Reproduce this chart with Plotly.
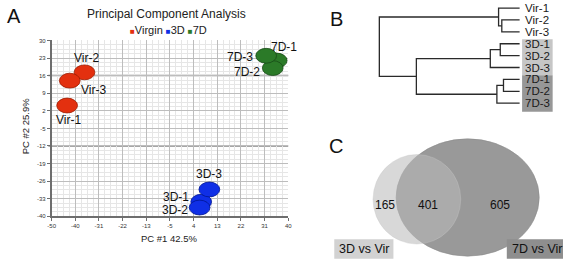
import numpy as np
import plotly.graph_objects as go

W, H = 567, 265
FONT = "Liberation Sans, Arial, sans-serif"

# ---------------- Data ----------------
GROUPS = ["Virgin", "3D", "7D"]
GROUP_COLORS = ["#e3300f", "#0f2fe6", "#2b7a28"]
GROUP_EDGES = ["#9a1a00", "#001590", "#184a16"]
SAMPLES = ["Vir-1", "Vir-2", "Vir-3", "3D-1", "3D-2", "3D-3", "7D-1", "7D-2", "7D-3"]
SAMPLE_GROUP = [0, 0, 0, 1, 1, 1, 2, 2, 2]
PC1 = [-44.1, -37.5, -43.1, 6.9, 6.3, 10.0, 35.6, 34.1, 31.6]
PC2 = [4.1, 17.3, 14.0, -34.2, -36.5, -29.3, 22.0, 19.0, 23.9]
X_TICK_LABELS = ["-50", "-40", "-31", "-22", "-13", "-5", "4", "13", "22", "31", "40"]
Y_TICK_LABELS = ["-40", "-33", "-26", "-19", "-12", "-5", "2", "9", "16", "23", "30"]

# dendrogram (leaves in display order, merges: left id, right id, height)
LEAVES = ["Vir-1", "Vir-2", "Vir-3", "3D-1", "3D-2", "3D-3", "7D-1", "7D-2", "7D-3"]
LINKAGE = [(1, 2, 0.127), (0, 9, 0.150), (3, 4, 0.138), (11, 5, 0.209),
           (6, 7, 0.115), (13, 8, 0.162), (12, 14, 0.736), (10, 15, 1.0)]

# venn
VENN_SETS = ["3D vs Vir", "7D vs Vir"]
VENN_COUNTS = [165, 401, 605]  # only-3D, both, only-7D

# ---------------- Figure ----------------
fig = go.Figure()

def px_x(p):
    return p / W

def px_y(p):
    return (H - p) / H

def ann(**kw):
    d = dict(showarrow=False, xanchor="center", yanchor="middle")
    d.update(kw)
    return d

# PCA axes
x_tickvals = list(np.linspace(-50, 40, len(X_TICK_LABELS)))
y_tickvals = list(np.linspace(-40, 30, len(Y_TICK_LABELS)))
axis_common = dict(
    showline=True, linecolor="#6e6e6e", linewidth=1.5, mirror=False,
    ticks="outside", ticklen=3, tickcolor="#6e6e6e",
    tickfont=dict(family=FONT, size=6, color="#333"),
    showgrid=True, gridcolor="#bdbdbd", gridwidth=1, zeroline=False,
    fixedrange=True,
)
fig.update_layout(
    xaxis=dict(domain=[px_x(48.3), px_x(288.3)], range=[-50, 40],
               tickmode="array", tickvals=x_tickvals, ticktext=X_TICK_LABELS,
               minor=dict(tick0=-50, dtick=2.25, showgrid=True, gridcolor="#e6e6e6", gridwidth=1),
               anchor="y", **axis_common),
    yaxis=dict(domain=[px_y(218.3), px_y(38.3)], range=[-40, 30],
               tickmode="array", tickvals=y_tickvals, ticktext=Y_TICK_LABELS,
               minor=dict(tick0=-40, dtick=1.75, showgrid=True, gridcolor="#e6e6e6", gridwidth=1),
               anchor="x", **axis_common),
)

shapes = []
# emphasised horizontal grid lines (every 4th y tick)
for yv in y_tickvals[4::4]:
    shapes.append(dict(type="line", xref="paper", yref="y", x0=px_x(45), x1=px_x(288.3), y0=yv, y1=yv,
                       line=dict(color="#8a8a8a", width=1.5), layer="below"))

# PCA ellipses from data
RX, RY = 3.95, 2.95
for i, name in enumerate(SAMPLES):
    g = SAMPLE_GROUP[i]
    shapes.append(dict(type="circle", xref="x", yref="y",
                       x0=PC1[i] - RX, x1=PC1[i] + RX, y0=PC2[i] - RY, y1=PC2[i] + RY,
                       fillcolor=GROUP_COLORS[g], line=dict(color=GROUP_EDGES[g], width=0.8),
                       layer="above"))
fig.add_trace(go.Scatter(x=PC1, y=PC2, mode="markers", marker=dict(size=1, opacity=0),
                         hoverinfo="skip", showlegend=False, xaxis="x", yaxis="y"))

LABEL_SHIFT = [(1, -14), (2, 14), (24, -9), (-25, 5), (-25, -2), (0, 15), (7, 14), (-26, -4), (-26, -1)]
annotations = []
for i, name in enumerate(SAMPLES):
    dx, dy = LABEL_SHIFT[i]
    annotations.append(ann(x=PC1[i], y=PC2[i], xref="x", yref="y", text=name,
                           xshift=dx, yshift=dy, font=dict(family=FONT, size=12, color="#111")))

annotations.append(ann(x=px_x(165), y=px_y(11), xref="paper", yref="paper", text="Principal Component Analysis",
                       font=dict(family=FONT, size=12, color="#222")))
leg = " ".join(f"<span style='color:{c};font-size:8px'>■</span>{g}" for g, c in zip(GROUPS, GROUP_COLORS))
annotations.append(ann(x=px_x(167), y=px_y(28), xref="paper", yref="paper", text=leg,
                       font=dict(family=FONT, size=11, color="#222")))
annotations.append(ann(x=px_x(168), y=px_y(241), xref="paper", yref="paper", text="PC #1 42.5%",
                       font=dict(family=FONT, size=9.5, color="#222")))
annotations.append(ann(x=px_x(21.5), y=px_y(126), xref="paper", yref="paper", text="PC #2 25.9%",
                       textangle=-90, font=dict(family=FONT, size=9.5, color="#222")))

for letter, (lx, ly) in zip("ABC", [(10, 13), (337, 16), (337, 146)]):
    annotations.append(ann(x=px_x(lx), y=px_y(ly), xref="paper", yref="paper", text=letter,
                           font=dict(family=FONT, size=20, color="#111")))

# ---------------- Dendrogram ----------------
LEAF_X0, H_SCALE = 523.0, 142.3
LEAF_Y0, LEAF_STEP = 5.2, 12.16
fig.update_layout(
    xaxis2=dict(domain=[px_x(375), 1], range=[(LEAF_X0 - 375) / H_SCALE, (LEAF_X0 - W) / H_SCALE],
                visible=False, anchor="y2", fixedrange=True),
    yaxis2=dict(domain=[px_y(115), 1], range=[(115 - LEAF_Y0) / LEAF_STEP, (0 - LEAF_Y0) / LEAF_STEP],
                visible=False, anchor="x2", fixedrange=True),
)
pos = {i: float(i) for i in range(len(LEAVES))}
hgt = {i: 0.0 for i in range(len(LEAVES))}
dx_, dy_ = [], []
for k, (a, b, h) in enumerate(LINKAGE):
    nid = len(LEAVES) + k
    dx_ += [hgt[a], h, h, hgt[b], None]
    dy_ += [pos[a], pos[a], pos[b], pos[b], None]
    pos[nid] = (pos[a] + pos[b]) / 2
    hgt[nid] = h
fig.add_trace(go.Scatter(x=dx_, y=dy_, mode="lines", line=dict(color="#2a2a2a", width=1.3),
                         hoverinfo="skip", showlegend=False, xaxis="x2", yaxis="y2"))
lab_x = (LEAF_X0 - 527) / H_SCALE
for i, name in enumerate(LEAVES):
    annotations.append(ann(x=lab_x, y=i, xref="x2", yref="y2", text=name, xanchor="left",
                           borderpad=0, font=dict(family=FONT, size=11.5, color="#1a1a1a")))
box_x0, box_x1 = (LEAF_X0 - 525.5) / H_SCALE, (LEAF_X0 - 556.5) / H_SCALE
for (i0, i1), col in zip([(2.62, 5.65), (5.65, 8.72)], ["#c6c6c6", "#979797"]):
    shapes.append(dict(type="rect", xref="x2", yref="y2", x0=box_x0, x1=box_x1, y0=i0, y1=i1,
                       fillcolor=col, line=dict(width=0), layer="below"))

# ---------------- Venn ----------------
fig.update_layout(
    xaxis3=dict(domain=[px_x(330), 1], range=[0, W - 330], visible=False, anchor="y3", fixedrange=True),
    yaxis3=dict(domain=[0, px_y(130)], range=[0, H - 130], visible=False, anchor="x3", fixedrange=True),
)
fig.add_trace(go.Scatter(x=[0], y=[0], mode="markers", marker=dict(size=1, opacity=0),
                         hoverinfo="skip", showlegend=False, xaxis="x3", yaxis="y3"))
big = dict(cx=140.3, cy=66.0, rx=72.6, ry=60.0)
small = dict(cx=88.8, cy=64.2, rx=44.5, ry=45.8)
shapes.append(dict(type="circle", xref="x3", yref="y3",
                   x0=big["cx"] - big["rx"], x1=big["cx"] + big["rx"],
                   y0=big["cy"] - big["ry"], y1=big["cy"] + big["ry"],
                   fillcolor="#999999", line=dict(color="#8d8d8d", width=0.6), layer="below"))
shapes.append(dict(type="circle", xref="x3", yref="y3",
                   x0=small["cx"] - small["rx"], x1=small["cx"] + small["rx"],
                   y0=small["cy"] - small["ry"], y1=small["cy"] + small["ry"],
                   fillcolor="rgba(186,186,186,0.56)", line=dict(color="rgba(200,200,200,0.6)", width=0.6),
                   layer="below"))
num_x = [(small["cx"] - small["rx"] + big["cx"] - big["rx"]) / 2,
         (big["cx"] - big["rx"] + small["cx"] + small["rx"]) / 2,
         (small["cx"] + small["rx"] + big["cx"] + big["rx"]) / 2]
for xv, cnt in zip(num_x, VENN_COUNTS):
    annotations.append(ann(x=xv, y=58.3, xref="x3", yref="y3", text=str(cnt),
                           font=dict(family=FONT, size=12, color="#111")))
for (bx0, bx1, col), name in zip([(5, 65, "#d2d2d2"), (180, 237, "#8e8e8e")], VENN_SETS):
    shapes.append(dict(type="rect", xref="x3", yref="y3", x0=bx0, x1=bx1, y0=3.3, y1=23.3,
                       fillcolor=col, line=dict(width=0), layer="below"))
    annotations.append(ann(x=(bx0 + bx1) / 2 + (2 if bx1 > 200 else 0), y=13.3, xref="x3", yref="y3",
                           text=name, font=dict(family=FONT, size=12.5, color="#111")))

fig.update_layout(
    width=W, height=H, margin=dict(l=0, r=0, t=0, b=0),
    paper_bgcolor="white", plot_bgcolor="white",
    shapes=shapes, annotations=annotations, showlegend=False,
)
fig.write_html("out.html", config={"displayModeBar": False},
               post_script="document.body.style.margin='0';document.body.style.overflow='hidden';")
